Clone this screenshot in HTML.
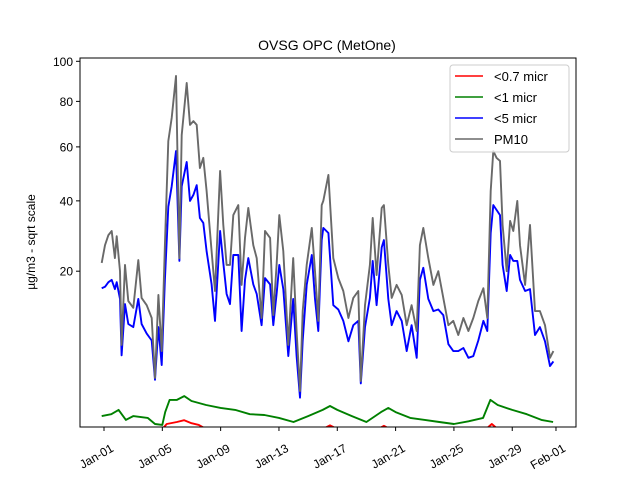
<!DOCTYPE html>
<html><head><meta charset="utf-8"><style>
body{margin:0;background:#fff;}
svg{font-family:"Liberation Sans","DejaVu Sans",sans-serif;}
</style></head><body>
<svg id="chart" width="640" height="480" viewBox="0 0 640 480" xmlns="http://www.w3.org/2000/svg">
<rect width="640" height="480" fill="#fff"/>
<defs><clipPath id="clip"><rect x="80" y="58" width="496" height="369"/></clipPath></defs>
<text x="327" y="50" font-size="14" text-anchor="middle">OVSG OPC (MetOne)</text>
<text transform="translate(35,242) rotate(-90)" font-size="12" text-anchor="middle">µg/m3 - sqrt scale</text>
<g id="series" clip-path="url(#clip)"></g>
<g id="axes"></g>
<rect x="80" y="58" width="496" height="369" fill="none" stroke="#000" stroke-width="1"/>
<g>
<rect x="450" y="65" width="119" height="87" rx="3" fill="#fff" fill-opacity="0.8" stroke="#ccc"/>
<line x1="455" y1="76" x2="483" y2="76" stroke="red" stroke-width="1.5"/><text x="494" y="81" font-size="13">&lt;0.7 micr</text>
<line x1="455" y1="97" x2="483" y2="97" stroke="green" stroke-width="1.5"/><text x="494" y="102" font-size="13">&lt;1 micr</text>
<line x1="455" y1="118" x2="483" y2="118" stroke="blue" stroke-width="1.5"/><text x="494" y="123" font-size="13">&lt;5 micr</text>
<line x1="455" y1="139" x2="483" y2="139" stroke="dimgray" stroke-width="1.5"/><text x="494" y="144" font-size="13">PM10</text>
</g>
</svg>
<script>
const pm10Days=[-0.16,0.07,0.30,0.53,0.75,0.87,1.10,1.21,1.44,1.67,2.01,2.35,2.58,2.93,3.27,3.50,3.73,3.96,4.18,4.41,4.64,4.94,5.17,5.33,5.67,5.90,6.13,6.36,6.58,6.81,7.04,7.38,7.61,7.96,8.18,8.41,8.64,8.87,9.21,9.44,9.67,9.90,10.24,10.47,10.81,11.04,11.39,11.61,11.84,12.02,12.30,12.64,12.98,13.21,13.44,13.63,13.90,14.25,14.47,14.70,14.93,15.04,15.39,15.73,16.07,16.41,16.76,17.10,17.44,17.61,17.90,18.24,18.43,18.70,19.05,19.20,19.50,19.73,20.07,20.42,20.76,21.10,21.45,21.67,21.90,22.24,22.59,22.93,23.27,23.62,23.96,24.30,24.65,24.99,25.33,25.67,26.02,26.29,26.52,26.70,26.93,27.16,27.34,27.62,27.85,28.07,28.35,28.53,28.88,29.22,29.56,29.90,30.25,30.59,30.82];
const pm10Vals=[22,26.6,29.4,30.6,23.2,29.1,20,6.4,21.5,13.6,12.3,22.7,14.2,12.8,10.5,2.75,14.8,5.6,26.6,62.4,72.4,92.4,23.2,64.9,88.9,69.3,71,69.3,51.7,55.6,43.4,25,15.6,50.6,32.4,21.5,21.5,35.4,38.6,16.9,28.6,37.7,26.6,23.2,10.5,30.6,28.6,11,21.5,35.4,25,6.4,23.2,8.4,1.73,11.7,21.5,31.5,20,10,38.6,40,49.1,23.2,18.4,15.6,10.5,14.2,15.6,2.5,12.8,21.5,34.5,19.1,37.7,38.6,21.5,14.2,16.9,14.8,9.3,12.8,8.4,26.6,31.5,23.2,16.9,20,14.2,9.3,10,7.8,10.5,8.4,10.5,13.6,16.2,10.5,43.4,58.3,55.6,54.4,32.4,20,33.6,30.6,40,26.6,16.9,32.4,11.7,11.7,9.3,4.8,5.6];
const pm5Days=[-0.16,0.07,0.30,0.53,0.75,0.87,1.10,1.21,1.44,1.67,2.01,2.35,2.58,2.93,3.27,3.50,3.73,3.96,4.18,4.41,4.64,4.94,5.17,5.33,5.67,5.90,6.13,6.36,6.58,6.81,7.04,7.38,7.61,7.96,8.18,8.41,8.64,8.87,9.21,9.44,9.67,9.90,10.24,10.47,10.81,11.04,11.39,11.61,11.84,12.02,12.30,12.64,12.98,13.21,13.44,13.63,13.90,14.25,14.47,14.70,14.93,15.04,15.39,15.73,16.07,16.41,16.76,17.10,17.44,17.61,17.90,18.24,18.43,18.70,19.05,19.20,19.50,19.73,20.07,20.42,20.76,21.10,21.45,21.67,21.90,22.24,22.59,22.93,23.27,23.62,23.96,24.30,24.65,24.99,25.33,25.67,26.02,26.29,26.52,26.70,26.93,27.16,27.34,27.62,27.85,28.07,28.35,28.53,28.88,29.22,29.56,29.90,30.25,30.59,30.82];
const pm5Vals=[16.2,16.5,17.5,18,16,17.5,14,5.1,13,9.5,9,14,9.5,8,7,2.6,9,4,18,38,45,58.3,22.5,45,54,40,42,45.4,34.5,33,25,17,10,30.6,22,15,13,24,24,8.4,18,23.2,17,15,9.3,18.4,17,9.3,15,21.5,16,5,14,5,1.3,7,16.9,24,14,8.4,28,31.5,30,12.8,12,10,6.9,9.3,10,2.3,9,14.2,22.5,12.8,26,28,14,9.3,11.7,10,5.6,9.3,4.8,18,20.8,14,11.7,12,11,6.5,5.6,5.6,6,4.8,5,7,10,8.4,30,38.6,37,35.4,21.5,15.6,24,22.5,22.5,18,15.6,16,7.8,9,6.9,3.9,4.4];
const pm1Days=[-0.16,0.5,1,1.5,2,3,3.5,4,4.2,4.5,5,5.5,6,6.5,7,8,9,10,11,12,13,14,15,15.5,16,17,18,19,19.5,20,21,22,23,24,25,26,26.5,27,28,29,30,30.8];
const pm1Vals=[0.43,0.5,0.67,0.31,0.43,0.37,0.2,0.18,0.58,1.17,1.17,1.4,1.11,1.0,0.9,0.76,0.67,0.5,0.47,0.37,0.25,0.43,0.67,0.85,0.67,0.43,0.25,0.58,0.76,0.58,0.37,0.31,0.25,0.2,0.27,0.37,1.17,0.9,0.67,0.5,0.31,0.25];
const pm07Days=[-0.16,4,4.3,5,5.5,6,6.5,7,15,15.5,16,18.8,19.2,19.6,26.2,26.6,27,30.8];
const pm07Vals=[0.08,0.1,0.2,0.25,0.3,0.22,0.18,0.1,0.1,0.17,0.1,0.1,0.16,0.1,0.1,0.2,0.1,0.08];
const xTickDays=[0,4,8,12,16,20,24,28,31];
const xTickLabels=["Jan-01","Jan-05","Jan-09","Jan-13","Jan-17","Jan-21","Jan-25","Jan-29","Feb-01"];
const yTickVals=[20,40,60,80,100];
const yTickLabels=["20","40","60","80","100"];

const NS="http://www.w3.org/2000/svg";
function xs(d){return 104+14.58*d;}
function ys(v){return 441-37.97*Math.sqrt(Math.max(v,0));}
const gs=document.getElementById('series');
const ga=document.getElementById('axes');
function line(days,vals,color,name){
  const n=Math.min(days.length,vals.length);
  const pts=[];
  for(let i=0;i<n;i++)pts.push(xs(days[i]).toFixed(1)+','+ys(vals[i]).toFixed(1));
  const p=document.createElementNS(NS,'polyline');
  p.setAttribute('points',pts.join(' '));
  p.setAttribute('fill','none');p.setAttribute('stroke',color);p.setAttribute('stroke-width','1.9');
  p.setAttribute('stroke-linejoin','round');
  
  
  gs.appendChild(p);
}
line(pm07Days,pm07Vals,'red','series-07-micr');
line(pm1Days,pm1Vals,'green','series-1-micr');
line(pm5Days,pm5Vals,'blue','series-5-micr');
line(pm10Days,pm10Vals,'dimgray','series-pm10');
xTickDays.forEach((d,i)=>{
  const x=xs(d);
  const t=document.createElementNS(NS,'line');
  t.setAttribute('x1',x);t.setAttribute('x2',x);t.setAttribute('y1',427);t.setAttribute('y2',431);t.setAttribute('stroke','#000');
  
  
  ga.appendChild(t);
  const l=document.createElementNS(NS,'text');
  l.setAttribute('x',x+6);l.setAttribute('y',443);l.setAttribute('font-size','12');l.setAttribute('text-anchor','end');
  l.setAttribute('transform','rotate(-30 '+(x+6)+' 443)');
  l.setAttribute('dominant-baseline','hanging');
  l.textContent=xTickLabels[i];
  
  
  ga.appendChild(l);
});
yTickVals.forEach((v,i)=>{
  const y=ys(v);
  const t=document.createElementNS(NS,'line');
  t.setAttribute('x1',76);t.setAttribute('x2',80);t.setAttribute('y1',y);t.setAttribute('y2',y);t.setAttribute('stroke','#000');
  
  
  ga.appendChild(t);
  const l=document.createElementNS(NS,'text');
  l.setAttribute('x',73);l.setAttribute('y',y+4.5);l.setAttribute('font-size','12');l.setAttribute('text-anchor','end');
  l.textContent=yTickLabels[i];
  
  
  ga.appendChild(l);
});
</script>
</body></html>
